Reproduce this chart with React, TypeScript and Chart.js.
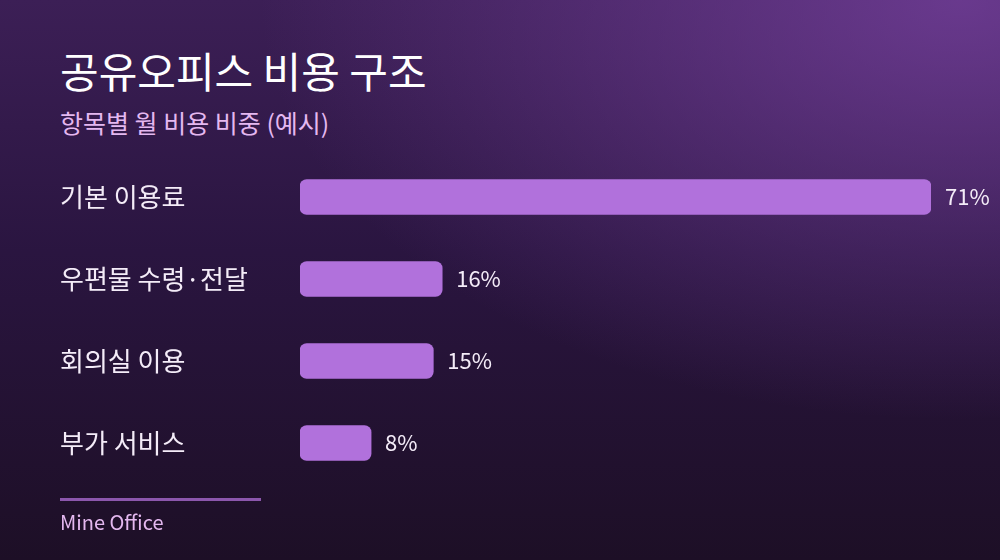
import { useEffect, useRef } from "react"
import { Chart, registerables } from "chart.js"

Chart.register(...registerables)

const categories = ["기본 이용료", "우편물 수령·전달", "회의실 이용", "부가 서비스"]
const shares = [71, 16, 15, 8]

const FONT = "'Noto Sans CJK KR', 'Noto Sans', sans-serif"

// draws the "71%" style labels to the right of each bar
const valueLabels = {
  id: "valueLabels",
  afterDatasetsDraw(chart: Chart) {
    const { ctx } = chart
    const meta = chart.getDatasetMeta(0)
    ctx.save()
    ctx.font = `22px ${FONT}`
    ctx.fillStyle = "#f4ecf8"
    ctx.textAlign = "left"
    ctx.textBaseline = "middle"
    meta.data.forEach((bar: any, i: number) => {
      ctx.fillText(shares[i] + "%", bar.x + 14, bar.y)
    })
    ctx.restore()
  },
}

export default function App() {
  const chartRef = useRef<HTMLCanvasElement>(null)
  const chartInstance = useRef<Chart | null>(null)

  useEffect(() => {
    if (!chartRef.current) return
    if (chartInstance.current) chartInstance.current.destroy()

    const ctx = chartRef.current.getContext("2d")
    if (ctx) {
      chartInstance.current = new Chart(ctx, {
        type: "bar",
        data: {
          labels: categories,
          datasets: [
            {
              data: shares,
              backgroundColor: "#b171dc",
              borderRadius: 7,
              borderSkipped: false,
              barThickness: 35,
            },
          ],
        },
        options: {
          indexAxis: "y",
          animation: false,
          responsive: true,
          maintainAspectRatio: false,
          layout: {
            padding: { left: 60, right: 69, top: 156, bottom: 76 },
          },
          plugins: {
            legend: { display: false },
            tooltip: { enabled: false },
          },
          scales: {
            x: {
              display: false,
              min: 0,
              max: 71,
            },
            y: {
              grid: { display: false },
              border: { display: false },
              afterFit: (scale: any) => {
                scale.width = 240
              },
              ticks: {
                crossAlign: "far",
                padding: 0,
                color: "#f4ecf8",
                font: { family: FONT, size: 26 },
              },
            },
          },
        },
        plugins: [valueLabels],
      })
    }

    return () => {
      if (chartInstance.current) {
        chartInstance.current.destroy()
        chartInstance.current = null
      }
    }
  }, [])

  return (
    <div
      style={{
        position: "fixed",
        left: 0,
        top: 0,
        width: 1000,
        height: 560,
        overflow: "hidden",
        fontFamily: FONT,
        background:
          "radial-gradient(ellipse 700px 420px at 960px 0px, rgba(120, 66, 160, 0.75), rgba(120, 66, 160, 0) 100%), linear-gradient(180deg, #3c1f56 0%, #2a1540 45%, #1d0f26 100%)",
      }}
    >
      <div
        style={{
          position: "absolute",
          left: 60,
          top: 40,
          fontSize: 42,
          fontWeight: 400,
          color: "#ffffff",
          lineHeight: "60px",
          whiteSpace: "nowrap",
        }}
      >
        공유오피스 비용 구조
      </div>
      <div
        style={{
          position: "absolute",
          left: 60,
          top: 105,
          fontSize: 25,
          color: "#e4b8f0",
          lineHeight: "34px",
          whiteSpace: "nowrap",
        }}
      >
        항목별 월 비용 비중 (예시)
      </div>
      <div style={{ position: "absolute", left: 0, top: 0, width: 1000, height: 560 }}>
        <canvas ref={chartRef} />
      </div>
      <div
        style={{
          position: "absolute",
          left: 60,
          top: 498,
          width: 201,
          height: 3,
          background: "#8c57ad",
        }}
      />
      <div
        style={{
          position: "absolute",
          left: 60,
          top: 507,
          fontSize: 20,
          color: "#e4b8f0",
          lineHeight: "30px",
          whiteSpace: "nowrap",
        }}
      >
        Mine Office
      </div>
    </div>
  )
}
